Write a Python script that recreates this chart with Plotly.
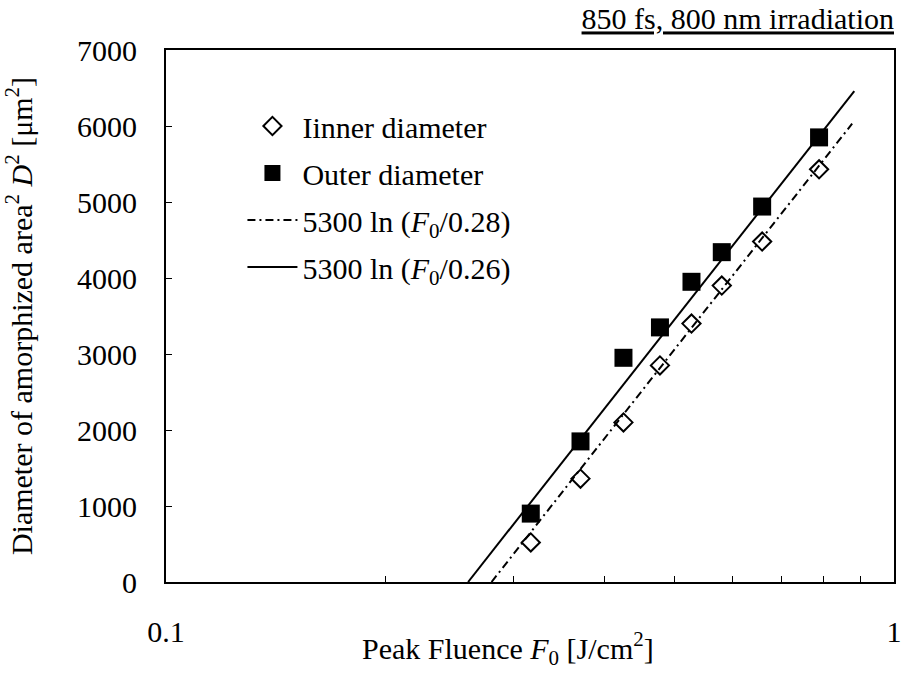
import plotly.graph_objects as go

# Data
fluence = [0.317, 0.371, 0.425, 0.477, 0.527, 0.580, 0.659, 0.789]
inner_d2 = [520, 1360, 2100, 2850, 3400, 3900, 4480, 5430]
outer_d2 = [900, 1850, 2950, 3350, 3950, 4340, 4940, 5850]

# Fit-line end points
fit28_x = [0.28, 0.876]
fit28_y = [0, 6030]
fit26_x = [0.26, 0.882]
fit26_y = [0, 6460]

xtick_vals = [0.1, 1.0]
xtick_text = ["0.1", "1"]
xminor_vals = [0.2, 0.3, 0.4, 0.5, 0.6, 0.7, 0.8, 0.9]
ytick_vals = [0, 1000, 2000, 3000, 4000, 5000, 6000, 7000]

FONT = "Liberation Serif"
FS = 30

fig = go.Figure()
fig.add_trace(go.Scatter(
    x=fluence, y=inner_d2, mode="markers", name="Iinner diameter",
    legendgroup="a",
    marker=dict(symbol="diamond-open", size=14, color="black", line=dict(width=2, color="black")),
))
fig.add_trace(go.Scatter(
    x=fluence, y=outer_d2, mode="markers", name="Outer diameter",
    legendgroup="b",
    marker=dict(symbol="square", size=18, color="black"),
))
fig.add_trace(go.Scatter(
    x=fit28_x, y=fit28_y, mode="lines",
    name="5300 ln (<i>F</i><sub>0</sub>/0.28)", legendgroup="c",
    line=dict(color="black", width=2, dash="8px,4px,2px,4px"),
))
fig.add_trace(go.Scatter(
    x=fit26_x, y=fit26_y, mode="lines",
    name="5300 ln (<i>F</i><sub>0</sub>/0.26)", legendgroup="d",
    line=dict(color="black", width=2),
))

fig.update_layout(
    width=909, height=677,
    margin=dict(l=166, r=7, t=50, b=95),
    paper_bgcolor="white", plot_bgcolor="white",
    font=dict(family=FONT, size=FS, color="black"),
    showlegend=True,
    legend=dict(
        x=0.105, y=0.906, xanchor="left", yanchor="top",
        bgcolor="rgba(0,0,0,0)", font=dict(size=FS, family=FONT, color="black"),
        traceorder="grouped", tracegroupgap=5, itemwidth=50,
    ),
    title=dict(
        text="<u>850 fs, 800 nm irradiation</u>",
        x=1.0, xanchor="right", y=0.972, yanchor="middle",
        xref="paper", yref="container",
        font=dict(size=FS, family=FONT, color="black"),
    ),
    annotations=[dict(
        text="Peak Fluence <i>F</i><sub>0</sub> [J/cm<sup>2</sup>]",
        xref="paper", yref="paper", x=0.47, y=-0.125,
        xanchor="center", yanchor="middle", showarrow=False,
        font=dict(size=FS, family=FONT, color="black"),
    )],
)

fig.update_xaxes(
    type="log", range=[-1, 0],
    tickvals=xtick_vals, ticktext=xtick_text,
    ticks="inside", ticklen=6, tickwidth=1, tickcolor="black",
    minor=dict(tickvals=xminor_vals, ticks="inside", ticklen=6, tickwidth=1,
               tickcolor="black", showgrid=False),
    showline=True, linewidth=2, linecolor="black", mirror=True,
    showgrid=False, zeroline=False,
    ticklabelstandoff=22,
    tickfont=dict(size=FS, family=FONT, color="black"),
)
fig.update_yaxes(
    range=[0, 7000], tickvals=ytick_vals,
    ticks="inside", ticklen=6, tickwidth=1, tickcolor="black",
    showline=True, linewidth=2, linecolor="black", mirror=True,
    showgrid=False, zeroline=False,
    ticklabelstandoff=21,
    tickfont=dict(size=FS, family=FONT, color="black"),
    title=dict(text="Diameter of amorphized area<sup>2</sup> <i>D</i><sup>2</sup> [μm<sup>2</sup>]",
               standoff=38, font=dict(size=FS, family=FONT, color="black")),
)

fig.write_html("out.html")
